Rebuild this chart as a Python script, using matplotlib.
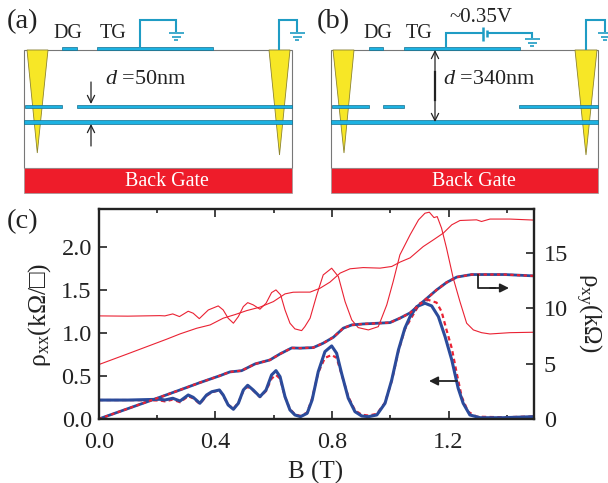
import matplotlib
matplotlib.use("Agg")
import matplotlib.pyplot as plt
from matplotlib.patches import Polygon, Rectangle

plt.rcParams['font.family'] = ['Liberation Serif', 'DejaVu Sans']
plt.rcParams['mathtext.fontset'] = 'custom'
plt.rcParams['mathtext.rm'] = 'Liberation Serif'
plt.rcParams['mathtext.it'] = 'Liberation Serif:italic'

# ---- values ----
b_xx = [0, .1, .21, .227, .254, .279, .307, .324, .347, .37, .388, .414, .427, .444, .462, .479, .496,
        .511, .53, .553, .574, .593, .608, .622, .639, .656, .673, .692, .715, .732, .753, .776, .799,
        .816, .833, .856, .879, .902, .925, .954, .982, 1.005, 1.028, 1.05, 1.068, 1.091, 1.119, 1.142,
        1.165, 1.188, 1.211, 1.233, 1.25, 1.273, 1.308, 1.387, 1.49]
rxx_blue = [.22, .22, .229, .221, .241, .209, .279, .252, .183, .279, .317, .337, .279, .163, .113, .183, .337,
            .392, .337, .259, .337, .512, .562, .492, .259, .105, .047, .027, .066, .221, .55, .783, .849,
            .764, .531, .241, .085, .035, .027, .047, .182, .453, .802, 1.054, 1.19, 1.306, 1.345, 1.314,
            1.19, .957, .686, .357, .183, .047, .015, .015, .027]

b_dash = [0, .1, .21, .227, .254, .279, .307, .324, .347, .37, .388, .414, .427, .444, .462, .479, .496,
          .511, .53, .553, .574, .593, .608, .622, .639, .656, .673, .692, .715, .732, .753, .776, .799,
          .816, .833, .856, .879, .902, .925, .954, .982, 1.005, 1.028, 1.05, 1.068, 1.102, 1.13, 1.159,
          1.176, 1.193, 1.211, 1.228, 1.245, 1.267, 1.296, 1.387, 1.49]
rxx_dash = [.22, .22, .215, .205, .225, .195, .265, .24, .175, .27, .31, .335, .27, .165, .12, .19, .325,
            .375, .33, .255, .325, .47, .512, .47, .255, .115, .055, .035, .075, .24, .54, .71, .744,
            .71, .52, .26, .1, .05, .04, .06, .19, .44, .79, 1.04, 1.151, 1.345, 1.384, 1.352,
            1.248, 1.035, .822, .531, .259, .085, .027, .02, .03]

b_xx_up = [0, .1, .21, .227, .254, .277, .307, .324, .345, .376, .41, .427, .444, .462, .479, .496, .511,
           .53, .553, .574, .593, .608, .624, .639, .656, .673, .696, .707, .725, .748, .77, .799, .822,
           .845, .868, .89, .925, .959, .988, 1.01, 1.033, 1.068, 1.097, 1.119, 1.134, 1.15, 1.161, 1.176,
           1.193, 1.216, 1.239, 1.262, 1.285, 1.313, 1.342, 1.41, 1.49]
rxx_up = [1.198, 1.195, 1.201, 1.198, 1.221, 1.19, 1.252, 1.229, 1.166, 1.267, 1.314, 1.267, 1.171, 1.113, 1.19, 1.306, 1.352,
          1.326, 1.276, 1.345, 1.469, 1.5, 1.442, 1.267, 1.113, 1.047, 1.027, 1.073, 1.171, 1.442, 1.674, 1.752, 1.655,
          1.364, 1.151, 1.062, 1.035, 1.073, 1.326, 1.597, 1.907, 2.14, 2.314, 2.391, 2.403, 2.34, 2.352, 2.217,
          1.985, 1.636, 1.364, 1.113, 1.035, 1.003, .988, 1.003, 1.008]

b_xy = [0, .21, .279, .347, .416, .45, .49, .536, .587, .622, .662, .69, .736, .77, .805, .839, .868, .907,
        .999, 1.033, 1.068, 1.113, 1.159, 1.193, 1.228, 1.279, 1.393, 1.49]
rxy_blue = [0, 1.97, 2.63, 3.29, 3.92, 4.26, 4.37, 4.98, 5.34, 5.89, 6.43, 6.41, 6.46, 6.86, 7.4, 8.22, 8.51, 8.6,
            8.72, 9.12, 9.6, 10.63, 11.68, 12.35, 12.84, 13.07, 13.07, 12.95]

b_xy_up = [0, .1, .233, .279, .336, .382, .427, .468, .508, .553, .599, .639, .667, .69, .725, .759, .793, .828,
           .862, .907, .965, 1.005, 1.033, 1.068, 1.113, 1.148, 1.182, 1.211, 1.239, 1.296, 1.313, 1.342, 1.41, 1.49]
rxy_up = [4.92, 5.9, 7.22, 7.7, 8.21, 8.51, 9.12, 9.45, 9.81, 10.12, 10.62, 11.32, 11.47, 11.48, 11.48, 11.83, 12.38, 13.2,
          13.59, 13.7, 13.65, 13.8, 14.19, 14.58, 15.6, 16.21, 16.82, 17.57, 17.96, 18.02, 17.87, 18.09, 18.09, 18.0]

x_ticks = [0.0, 0.4, 0.8, 1.2]
x_minor = [0.2, 0.6, 1.0, 1.4]
left_ticks = [0.0, 0.5, 1.0, 1.5, 2.0]
right_ticks = [0, 5, 10, 15]

RED = '#ea2233'
BLUE = '#2b4b9b'
WIRE = '#1f9cc4'
STRIP = '#1db2e2'
INK = '#222222'
W, H = 608, 483

fig = plt.figure(figsize=(W / 100, H / 100), dpi=100)

# ---- panel (c) ----
ax = fig.add_axes([98.7 / W, (H - 419) / H, 435.3 / W, 210 / H])
ax.plot(b_xx_up, rxx_up, color=RED, lw=0.8)
ax.plot(b_xx, rxx_blue, color=BLUE, lw=2.2)
ax.plot(b_dash, rxx_dash, color=RED, lw=1.6, ls=(0, (2, 1.5)), zorder=1.9)
ax.set_xlim(0, 1.493)
ax.set_ylim(0, 2.44)
ax.set_xticks(x_ticks)
ax.set_xticklabels([f"{v:.1f}" for v in x_ticks])
ax.set_xticks(x_minor, minor=True)
ax.set_yticks(left_ticks)
ax.set_yticklabels([f"{v:.1f}" for v in left_ticks])
ax.tick_params(axis='both', which='major', direction='in', length=5.8, width=1.2, color=INK,
               labelcolor=INK, labelsize=17.5, pad=5)
ax.tick_params(axis='x', which='minor', direction='in', length=2.9, width=1.2, color=INK)
ax.tick_params(axis='x', which='both', top=True)
ax.tick_params(axis='x', which='major', pad=9)

ax2 = ax.twinx()
ax2.plot(b_xy_up, rxy_up, color=RED, lw=0.8)
ax2.plot(b_xy, rxy_blue, color=BLUE, lw=2.0)
ax2.plot(b_xy, rxy_blue, color=RED, lw=1.6, ls=(0, (1.5, 1.5)))
ax2.set_ylim(0, 19.0)
ax2.set_yticks(right_ticks)
ax2.tick_params(axis='y', direction='in', length=5.8, width=1.2, color=INK, labelcolor=INK,
                labelsize=17.5, pad=7)
for side in ['top', 'bottom', 'left', 'right']:
    ax2.spines[side].set_linewidth(1.7)
    ax2.spines[side].set_color(INK)
    ax.spines[side].set_visible(False)

# ---- schematics and labels, in pixel coordinates ----
ov = fig.add_axes([0, 0, 1, 1], facecolor='none')
ov.set_xlim(0, W)
ov.set_ylim(H, 0)
ov.axis('off')


def wire(xs, ys, lw=1.5):
    ov.plot(xs, ys, color=WIRE, lw=lw, solid_capstyle='butt', solid_joinstyle='miter')


def ground(x, y):
    for i, half in enumerate([7.5, 4.5, 2]):
        wire([x - half, x + half], [y + i * 3.5, y + i * 3.5], lw=1.2)


def strip(x0, x1, y, h=3):
    ov.add_patch(Rectangle((x0, y - h / 2), x1 - x0, h, fc=STRIP, ec='#14708f', lw=0.5))


def cone(x0, x1, xa, ya):
    ov.add_patch(Polygon([(x0, 50), (x1, 50), (xa, ya)], fc='#f7e726', ec='#8d8430', lw=0.6))


def arrow(x0, y0, x1, y1, style='->', lw=0.9, scale=13):
    ov.annotate('', xy=(x1, y1), xytext=(x0, y0),
                arrowprops=dict(arrowstyle=style, color=INK, lw=lw, mutation_scale=scale,
                                shrinkA=0, shrinkB=0))


def panel(left, right, tri_l, tri_r):
    ov.add_patch(Rectangle((left, 50), right - left, 118, fc='white', ec='#777777', lw=0.8))
    ov.add_patch(Rectangle((left, 168), right - left, 25, fc='#ee1c2a', ec='#999999', lw=0.5))
    cone(*tri_l)
    cone(*tri_r)
    strip(left, right, 122, h=4)
    ov.text((left + right) / 2 + 9, 182, 'Back Gate', color='white', fontsize=14.4, ha='center', va='center')


panel(24, 292, (27, 48, 37.3, 153), (269, 290, 279.5, 155))
panel(331, 598, (333, 354, 344, 153), (575, 597, 586, 155))

# panel (a) top contacts and wires
strip(25, 62, 106)
strip(77, 292, 106)
strip(62, 77, 48)
strip(97, 213, 48)
wire([140, 140, 176, 176], [48, 20, 20, 32])
ground(176, 33)
wire([279, 279, 297, 297], [50, 20, 20, 32])
ground(297, 33)
arrow(91, 82, 91, 104)
arrow(91, 146, 91, 124)

# panel (b) top contacts and wires
strip(332, 369, 106)
strip(383, 404, 106)
strip(519, 598, 106)
strip(369, 383, 48)
strip(404, 520, 48)
wire([446, 446, 483], [48, 33, 33])
wire([483, 483], [27, 41], lw=1.8)
wire([487, 487], [30, 37], lw=1.8)
wire([487, 532, 532], [33, 33, 38])
ground(532, 39)
wire([586, 586, 605, 605], [50, 20, 20, 32])
ground(605, 33)
arrow(435, 85, 435, 50)
arrow(435, 85, 435, 122)
ov.plot([435, 435], [72, 100], color=INK, lw=1.6)

ov.text(7, 22, '(a)', fontsize=20.5, va='center', color=INK)
ov.text(317, 22, '(b)', fontsize=20.5, va='center', color=INK)
ov.text(7, 222, '(c)', fontsize=20.5, va='center', color=INK)
ov.text(68, 33, 'DG', fontsize=14.4, ha='center', va='center', color=INK)
ov.text(113, 33, 'TG', fontsize=14.4, ha='center', va='center', color=INK)
ov.text(378, 33, 'DG', fontsize=14.4, ha='center', va='center', color=INK)
ov.text(419, 33, 'TG', fontsize=14.4, ha='center', va='center', color=INK)
ov.text(481, 17, '~0.35V', fontsize=15, ha='center', va='center', color=INK)
ov.text(105, 80, r'$\mathit{d}$ =50nm', fontsize=16, va='center', color=INK)
ov.text(443, 80, r'$\mathit{d}$ =340nm', fontsize=16, va='center', color=INK)

# panel (c) arrows and axis titles
ov.plot([478, 478, 495], [275, 288, 288], color=INK, lw=1.3)
arrow(490, 288, 509, 288, style='-|>', lw=1.3, scale=13)
arrow(457, 381, 429, 381, style='-|>', lw=1.3, scale=13)
ov.text(316, 472, 'B (T)', fontsize=18, ha='center', va='center', color=INK)
ov.text(40, 315, r'$\mathrm{\rho_{xx}}$(kΩ/□)', fontsize=18.5, rotation=90, ha='center', va='center', color=INK)
ov.text(588, 313, r'$\mathrm{\rho_{xy}}$(kΩ)', fontsize=18, rotation=270, ha='center', va='center', color=INK)

fig.savefig('out.png', dpi=100)
